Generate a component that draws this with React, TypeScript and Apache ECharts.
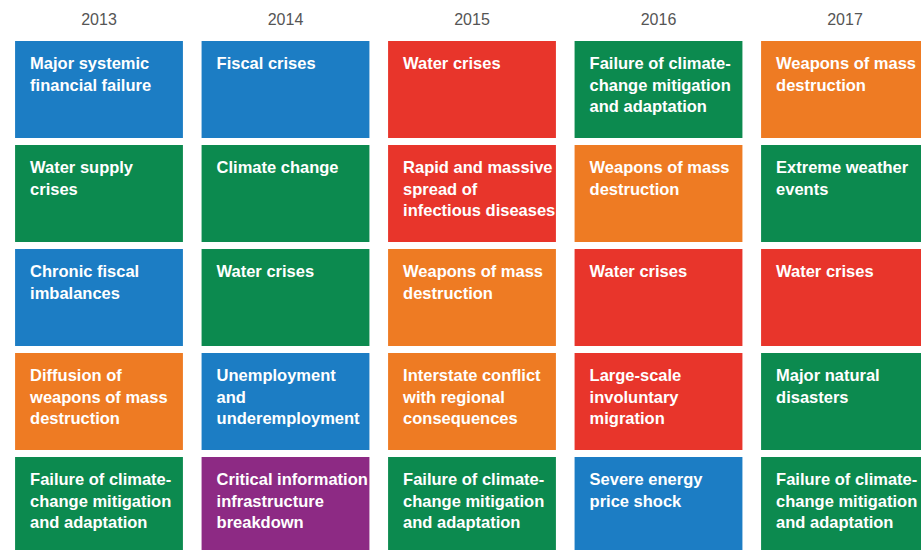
import React, { useEffect, useRef } from "react";
import * as echarts from "echarts";

const years = ["2013", "2014", "2015", "2016", "2017"];
const ranks = ["1st", "2nd", "3rd", "4th", "5th"];

const risks2013 = [
  "Major systemic\nfinancial failure",
  "Water supply\ncrises",
  "Chronic fiscal\nimbalances",
  "Diffusion of\nweapons of mass\ndestruction",
  "Failure of climate-\nchange mitigation\nand adaptation",
];
const types2013 = ["economic", "environmental", "economic", "geopolitical", "environmental"];

const risks2014 = [
  "Fiscal crises",
  "Climate change",
  "Water crises",
  "Unemployment\nand\nunderemployment",
  "Critical information\ninfrastructure\nbreakdown",
];
const types2014 = ["economic", "environmental", "environmental", "economic", "technological"];

const risks2015 = [
  "Water crises",
  "Rapid and massive\nspread of\ninfectious diseases",
  "Weapons of mass\ndestruction",
  "Interstate conflict\nwith regional\nconsequences",
  "Failure of climate-\nchange mitigation\nand adaptation",
];
const types2015 = ["societal", "societal", "geopolitical", "geopolitical", "environmental"];

const risks2016 = [
  "Failure of climate-\nchange mitigation\nand adaptation",
  "Weapons of mass\ndestruction",
  "Water crises",
  "Large-scale\ninvoluntary\nmigration",
  "Severe energy\nprice shock",
];
const types2016 = ["environmental", "geopolitical", "societal", "societal", "economic"];

const risks2017 = [
  "Weapons of mass\ndestruction",
  "Extreme weather\nevents",
  "Water crises",
  "Major natural\ndisasters",
  "Failure of climate-\nchange mitigation\nand adaptation",
];
const types2017 = ["geopolitical", "environmental", "societal", "environmental", "environmental"];

const risksByYear = [risks2013, risks2014, risks2015, risks2016, risks2017];
const typesByYear = [types2013, types2014, types2015, types2016, types2017];

const typeColors: Record<string, string> = {
  economic: "#1c7dc4",
  environmental: "#0c8a4f",
  geopolitical: "#ee7b23",
  societal: "#e8352b",
  technological: "#8d2a84",
};

const FONT = '"Liberation Sans", Arial, Helvetica, sans-serif';

export default function App() {
  const ref = useRef<HTMLDivElement>(null);

  useEffect(() => {
    if (!ref.current) return;
    const chart = echarts.init(ref.current, undefined, { renderer: "svg" });

    const cells: { x: number; y: number; label: string; type: string }[] = [];
    risksByYear.forEach((list, xi) => {
      list.forEach((label, yi) => {
        cells.push({ x: xi, y: yi, label, type: typesByYear[xi][yi] });
      });
    });

    chart.setOption({
      animation: false,
      backgroundColor: "#ffffff",
      grid: {
        left: 5.75,
        top: 37.5,
        right: -17.25,
        bottom: -7.5,
        outerBoundsMode: "none",
        containLabel: false,
      },
      xAxis: {
        type: "category",
        data: years,
        position: "top",
        axisLine: { show: false },
        axisTick: { show: false },
        splitLine: { show: false },
        axisLabel: { color: "#555555", fontSize: 16, fontFamily: FONT, margin: 10 },
      },
      yAxis: {
        type: "category",
        data: ranks,
        inverse: true,
        show: false,
      },
      series: [
        {
          type: "custom",
          clip: false,
          data: cells.map((c) => [c.x, c.y]),
          encode: { x: 0, y: 1 },
          renderItem: (params: any, api: any) => {
            const cell = cells[params.dataIndex];
            const center = api.coord([api.value(0), api.value(1)]);
            const band = api.size([1, 1]);
            const w = band[0] * 0.9;
            const h = band[1] * 0.933;
            const left = center[0] - w / 2;
            const top = center[1] - h / 2;
            return {
              type: "group",
              children: [
                {
                  type: "rect",
                  shape: { x: left, y: top, width: w, height: h },
                  style: { fill: typeColors[cell.type] },
                },
                {
                  type: "text",
                  style: {
                    text: cell.label,
                    x: left + 15,
                    y: top + 11.5,
                    fill: "#ffffff",
                    fontSize: 16.5,
                    fontWeight: "bold",
                    fontFamily: FONT,
                    lineHeight: 21.5,
                    align: "left",
                    verticalAlign: "top",
                  },
                },
              ],
            };
          },
        },
      ],
    });

    return () => chart.dispose();
  }, []);

  return (
    <div
      ref={ref}
      style={{ position: "fixed", left: 0, top: 0, width: 921, height: 550, background: "#fff" }}
    />
  );
}
